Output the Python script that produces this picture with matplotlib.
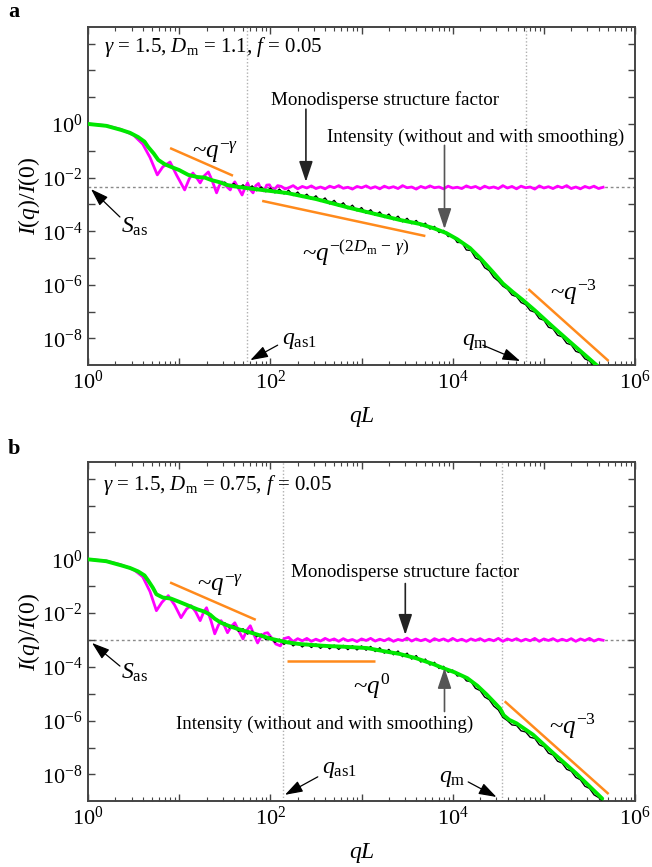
import numpy as np
import matplotlib
matplotlib.use("Agg")
from matplotlib import pyplot as plt
from matplotlib import ticker

plt.rcParams['font.family'] = 'serif'
plt.rcParams['font.serif'] = ['Liberation Serif', 'DejaVu Serif']
plt.rcParams['mathtext.fontset'] = 'custom'
plt.rcParams['mathtext.rm'] = 'Liberation Serif'
plt.rcParams['mathtext.it'] = 'Liberation Serif:italic'
plt.rcParams['mathtext.bf'] = 'Liberation Serif:bold'

#
# Data (log10 values)
#

# common q grid of the noisy parts
lq_noise = [1.50, 1.55, 1.60, 1.65, 1.70, 1.75, 1.80, 1.85, 1.90, 1.95,
            2.00, 2.05, 2.10, 2.15, 2.20, 2.25, 2.30, 2.35, 2.40, 2.45,
            2.50, 2.55, 2.60, 2.65, 2.70, 2.75, 2.80, 2.85, 2.90, 2.95,
            3.00, 3.05, 3.10, 3.15, 3.20, 3.25, 3.30, 3.35, 3.40, 3.45,
            3.50, 3.55, 3.60, 3.65, 3.70, 3.75, 3.80, 3.85, 3.90, 3.95,
            4.00, 4.05, 4.10, 4.15, 4.20, 4.25, 4.30, 4.35, 4.40, 4.45,
            4.50, 4.55, 4.60, 4.65, 4.70, 4.75, 4.80, 4.85, 4.90, 4.95,
            5.00, 5.05, 5.10, 5.15, 5.20, 5.25, 5.30, 5.35, 5.40, 5.45,
            5.50, 5.55, 5.60, 5.65]

# panel a: monodisperse structure factor (magenta)
mono_a_lq = [0, 0.2, 0.36, 0.5, 0.6, 0.68, 0.76, 0.82, 0.9, 0.97,
             1.06, 1.11, 1.15, 1.19, 1.23, 1.27, 1.32, 1.36, 1.41, 1.44,
             1.47, 1.51, 1.56, 1.58, 1.61, 1.65, 1.69, 1.72, 1.75, 1.78,
             1.81, 1.84, 1.87, 1.90, 1.93, 1.96, 1.99, 2.02, 2.05, 2.08,
             2.12, 2.16, 2.20]
mono_a_lI = [0, -0.06, -0.2, -0.42, -0.75, -1.25, -1.9, -1.6, -1.42, -1.9,
             -2.46, -2.05, -1.83, -2.0, -2.2, -1.95, -1.79, -2.1, -2.57, -2.3,
             -2.16, -2.3, -2.46, -2.3, -2.16, -2.4, -2.65, -2.4, -2.2, -2.45,
             -2.57, -2.3, -2.22, -2.45, -2.5, -2.28, -2.27, -2.45, -2.42, -2.3,
             -2.33, -2.42, -2.38]
mono_a_flat = [-2.30, -2.42, -2.33, -2.39, -2.31, -2.41, -2.35, -2.42, -2.32, -2.38,
               -2.30, -2.40, -2.36, -2.43, -2.33, -2.38, -2.31, -2.40, -2.34, -2.42,
               -2.32, -2.39, -2.34, -2.41, -2.30, -2.38, -2.35, -2.43, -2.33, -2.39,
               -2.31, -2.38, -2.35, -2.42, -2.32, -2.39, -2.36, -2.41, -2.31, -2.38,
               -2.33, -2.42, -2.32, -2.39, -2.35, -2.41, -2.30, -2.39, -2.33, -2.42,
               -2.32, -2.38, -2.35, -2.43, -2.31, -2.39, -2.34, -2.41, -2.32, -2.38,
               -2.30, -2.41, -2.35, -2.42, -2.33, -2.39, -2.32, -2.41, -2.36]

# panel a: intensity, raw (black) and smoothed (green)
raw_a_lI = [-2.17, -2.33, -2.22, -2.40, -2.27, -2.45, -2.31, -2.49, -2.35, -2.53,
            -2.39, -2.57, -2.43, -2.61, -2.47, -2.67, -2.54, -2.74, -2.62, -2.81,
            -2.68, -2.89, -2.76, -2.98, -2.85, -3.07, -2.94, -3.16, -3.03, -3.24,
            -3.12, -3.33, -3.20, -3.41, -3.28, -3.49, -3.36, -3.57, -3.44, -3.65,
            -3.52, -3.72, -3.60, -3.80, -3.70, -3.92, -3.82, -4.05, -3.97, -4.20,
            -4.17, -4.42, -4.42, -4.70, -4.72, -5.00, -5.08, -5.36, -5.47, -5.72,
            -5.86, -6.05, -6.16, -6.38, -6.44, -6.66, -6.74, -6.96, -7.02, -7.26,
            -7.32, -7.58, -7.64, -7.88, -7.94, -8.18, -8.24, -8.48, -8.54, -8.76,
            -8.84, -9.06, -9.14, -9.30]
smooth_a_lq = [0, 0.2, 0.36, 0.46, 0.55, 0.62, 0.66, 0.72, 0.77, 0.84,
               0.91, 1.0, 1.1, 1.2, 1.28, 1.35, 1.44, 1.53, 1.65, 1.83,
               2.0, 2.19, 2.5, 2.87, 3.2, 3.42, 3.64, 3.8, 3.93, 4.05,
               4.19, 4.3, 4.44, 4.55, 4.66, 4.77, 4.9, 5.1, 5.3, 5.59]
smooth_a_lI = [0, -0.07, -0.22, -0.33, -0.49, -0.66, -0.86, -1.1, -1.34, -1.5,
               -1.6, -1.72, -1.9, -1.98, -2.0, -2.09, -2.17, -2.28, -2.35, -2.43,
               -2.5, -2.58, -2.8, -3.13, -3.4, -3.58, -3.73, -3.9, -4.07, -4.3,
               -4.63, -5.0, -5.52, -5.95, -6.27, -6.57, -6.95, -7.57, -8.17, -9.03]

# panel b
mono_b_lq = [0, 0.2, 0.36, 0.5, 0.6, 0.68, 0.75, 0.81, 0.88, 0.95,
             1.02, 1.08, 1.13, 1.18, 1.23, 1.27, 1.30, 1.35, 1.39, 1.43,
             1.46, 1.50, 1.53, 1.57, 1.61, 1.66, 1.70, 1.74, 1.78, 1.82,
             1.86, 1.90, 1.94, 1.97, 2.02, 2.06, 2.11, 2.15, 2.20]
mono_b_lI = [0, -0.06, -0.2, -0.38, -0.65, -1.2, -1.91, -1.6, -1.35, -1.7,
             -2.17, -1.85, -1.72, -1.95, -2.28, -1.95, -1.8, -2.3, -2.77, -2.45,
             -2.28, -2.5, -2.73, -2.5, -2.36, -2.7, -2.96, -2.65, -2.47, -2.8,
             -3.11, -2.85, -2.75, -2.73, -2.95, -3.15, -3.22, -2.95, -2.9]
mono_b_flat = [-3.06, -2.95, -3.03, -2.94, -3.05, -2.97, -3.04, -2.94, -3.02, -2.96,
               -3.05, -2.95, -3.03, -2.98, -3.06, -2.96, -3.02, -2.94, -3.04, -2.97,
               -3.03, -2.95, -3.05, -2.98, -3.02, -2.93, -3.04, -2.96, -3.03, -2.97,
               -3.06, -2.95, -3.02, -2.96, -3.04, -2.94, -3.03, -2.97, -3.05, -2.96,
               -3.02, -2.95, -3.04, -2.97, -3.03, -2.94, -3.05, -2.96, -3.02, -2.95,
               -3.04, -2.97, -3.03, -2.94, -3.05, -2.96, -3.02, -2.95, -3.04, -2.97,
               -3.03, -2.95, -3.05, -2.96, -3.02, -2.94, -3.04, -2.97, -3.01]
raw_b_lI = [-2.36, -2.55, -2.47, -2.68, -2.58, -2.78, -2.67, -2.88, -2.78, -2.99,
            -2.88, -3.09, -2.97, -3.16, -3.05, -3.22, -3.10, -3.26, -3.13, -3.28,
            -3.15, -3.31, -3.17, -3.33, -3.19, -3.35, -3.20, -3.36, -3.21, -3.37,
            -3.22, -3.38, -3.24, -3.43, -3.29, -3.49, -3.35, -3.55, -3.41, -3.62,
            -3.49, -3.71, -3.58, -3.82, -3.71, -3.93, -3.83, -4.06, -3.98, -4.20,
            -4.12, -4.34, -4.30, -4.52, -4.55, -4.80, -4.88, -5.12, -5.22, -5.46,
            -5.60, -5.88, -6.00, -6.16, -6.18, -6.38, -6.42, -6.62, -6.66, -6.90,
            -6.97, -7.21, -7.28, -7.51, -7.58, -7.81, -7.88, -8.11, -8.20, -8.44,
            -8.52, -8.76, -8.86, -9.02]
smooth_b_lq = [0, 0.2, 0.36, 0.46, 0.55, 0.62, 0.66, 0.71, 0.75, 0.82,
               0.91, 1.0, 1.1, 1.2, 1.28, 1.34, 1.39, 1.46, 1.54, 1.65,
               1.83, 2.0, 2.19, 2.32, 2.6, 2.8, 3.06, 3.25, 3.42, 3.6,
               3.79, 3.89, 4.02, 4.16, 4.27, 4.37, 4.45, 4.52, 4.56, 4.62,
               4.7, 4.88, 5.1, 5.35, 5.64]
smooth_b_lI = [0, -0.07, -0.22, -0.32, -0.45, -0.6, -0.79, -1.05, -1.3, -1.42,
               -1.46, -1.58, -1.72, -1.86, -1.95, -2.06, -2.21, -2.36, -2.47, -2.6,
               -2.77, -2.95, -3.09, -3.15, -3.22, -3.25, -3.3, -3.42, -3.52, -3.68,
               -3.9, -4.04, -4.2, -4.42, -4.7, -5.02, -5.3, -5.55, -5.8, -5.97,
               -6.1, -6.52, -7.2, -7.95, -8.9]

# power-law guide lines: (lq start, lq end), (lI start, lI end)
guides_a = [((0.90, 1.59), (-0.90, -1.93)),
            ((1.91, 3.70), (-2.87, -4.18)),
            ((4.83, 5.71), (-6.16, -8.84))]
guides_b = [((0.90, 1.84), (-0.86, -2.25)),
            ((2.18, 3.15), (-3.78, -3.78)),
            ((4.57, 5.71), (-5.28, -8.73))]

# characteristic values: S_as level, q_as1, q_m (log10)
sas_a, qas1_a, qm_a = -2.37, 1.743, 4.80
sas_b, qas1_b, qm_b = -3.0, 2.14, 4.54

# decades that get a tick / a label
y_ticks = [-8, -7, -6, -5, -4, -3, -2, -1, 0, 1, 2, 3]
y_labeled = [-8, -6, -4, -2, 0]
x_ticks = [0, 1, 2, 3, 4, 5, 6]
x_labeled = [0, 2, 4, 6]

params_a = r'$\gamma$ = 1.5, $D_{\rm m}$ = 1.1, $f$ = 0.05'
params_b = r'$\gamma$ = 1.5, $D_{\rm m}$ = 0.75, $f$ = 0.05'

MAGENTA = '#ff00ff'
GREEN = '#00e800'
ORANGE = '#ff8a1c'


def P(v):
    return 10.0 ** np.asarray(v, dtype=float)


def dec_labels(ticks, labeled):
    return [r'$10^{%d}$' % e if e in labeled else '' for e in ticks]


def setup_axes(ax):
    ax.set_xscale('log')
    ax.set_yscale('log')
    ax.set_xlim(1, 1e6)
    ax.set_ylim(10 ** -8.99, 10 ** 3.62)
    ax.set_xticks(P(x_ticks), dec_labels(x_ticks, x_labeled))
    ax.set_yticks(P(y_ticks), dec_labels(y_ticks, y_labeled))
    ax.xaxis.set_minor_locator(ticker.LogLocator(base=10, subs=np.arange(2, 10), numticks=20))
    ax.xaxis.set_minor_formatter(ticker.NullFormatter())
    ax.yaxis.set_minor_locator(ticker.NullLocator())
    ax.tick_params(which='both', direction='in', top=True, right=True, color='#444',
                   labelsize=16, pad=4)
    ax.tick_params(which='major', length=5, width=1)
    ax.tick_params(which='minor', length=3, width=0.8)
    for s in ax.spines.values():
        s.set_color('#444')
        s.set_linewidth(1.4)
    ax.set_xlabel(r'$qL$', fontsize=17, labelpad=8)
    ax.set_ylabel(r'$I(q)/I(0)$', fontsize=17, labelpad=0)


def draw_panel(ax, mono_lq, mono_lI, mono_flat, raw_lI, smooth_lq, smooth_lI,
               guides, sas, qas1, qm):
    ax.axhline(10 ** sas, color='#8a8a8a', ls=(0, (2, 2)), lw=1.0, zorder=1)
    ax.axvline(10 ** qas1, color='#b0b0b0', ls=(0, (1, 1.5)), lw=1.0, zorder=1)
    ax.axvline(10 ** qm, color='#b0b0b0', ls=(0, (1, 1.5)), lw=1.0, zorder=1)
    for (xs, ys) in guides:
        ax.plot(P(xs), P(ys), color=ORANGE, lw=1.8, zorder=2, solid_capstyle='butt')
    ax.plot(P(list(mono_lq) + lq_noise[15:]), P(list(mono_lI) + mono_flat),
            color=MAGENTA, lw=2.0, zorder=3)
    ax.plot(P(lq_noise), P(raw_lI), color='black', lw=1.0, zorder=4)
    ax.plot(P(smooth_lq), P(smooth_lI), color=GREEN, lw=2.8, zorder=5,
            solid_capstyle='round')


def arrow(ax, start, tip, color='black', lw=0.9, scale=12):
    ax.annotate('', xy=P(tip), xytext=P(start),
                arrowprops=dict(arrowstyle='-|>,head_length=0.9,head_width=0.3',
                                color=color, lw=lw, shrinkA=0, shrinkB=0,
                                mutation_scale=scale), zorder=6)


fig = plt.figure(figsize=(6.52, 8.67), dpi=100)
ax_a = fig.add_axes([0.135, 0.579, 0.839, 0.390])
ax_b = fig.add_axes([0.135, 0.0761, 0.839, 0.391])

#
# Panel a
#
setup_axes(ax_a)
draw_panel(ax_a, mono_a_lq, mono_a_lI, mono_a_flat, raw_a_lI, smooth_a_lq, smooth_a_lI,
           guides_a, sas_a, qas1_a, qm_a)
ax_a.text(*P((0.175, 2.87)), params_a, fontsize=15, ha='left', va='center')
ax_a.text(*P((3.26, 0.90)), 'Monodisperse structure factor', fontsize=13.7, ha='center', va='center')
arrow(ax_a, (2.39, 0.55), (2.39, -2.16), color='#222', lw=1.2, scale=14)
ax_a.text(*P((4.25, -0.49)), 'Intensity (without and with smoothing)', fontsize=13.7,
          ha='center', va='center')
arrow(ax_a, (3.91, -0.80), (3.91, -3.92), color='#555', lw=1.2, scale=14)
ax_a.text(*P((0.515, -3.84)), r'$S_{\rm as}$', fontsize=17, ha='center', va='center')
arrow(ax_a, (0.35, -3.47), (0.033, -2.43))
ax_a.text(*P((1.39, -1.04)), r'~$q^{-\gamma}$', fontsize=18, ha='center', va='center')
ax_a.text(*P((2.93, -4.78)), r'~$q^{-(2D_{\rm m}\,-\,\gamma)}$', fontsize=18,
          ha='center', va='center')
ax_a.text(*P((5.32, -6.27)), r'~$q^{-3}$', fontsize=18, ha='center', va='center')
ax_a.text(*P((2.32, -8.06)), r'$q_{\rm as1}$', fontsize=17, ha='center', va='center')
arrow(ax_a, (2.08, -8.25), (1.78, -8.81))
ax_a.text(*P((4.25, -8.13)), r'$q_{\rm m}$', fontsize=17, ha='center', va='center')
arrow(ax_a, (4.33, -8.25), (4.74, -8.84))

#
# Panel b
#
setup_axes(ax_b)
draw_panel(ax_b, mono_b_lq, mono_b_lI, mono_b_flat, raw_b_lI, smooth_b_lq, smooth_b_lI,
           guides_b, sas_b, qas1_b, qm_b)
ax_b.text(*P((0.165, 2.77)), params_b, fontsize=15, ha='left', va='center')
ax_b.text(*P((3.48, -0.49)), 'Monodisperse structure factor', fontsize=13.7, ha='center', va='center')
arrow(ax_b, (3.48, -0.90), (3.48, -2.81), color='#222', lw=1.2, scale=14)
ax_b.text(*P((2.60, -6.14)), 'Intensity (without and with smoothing)', fontsize=13.7,
          ha='center', va='center')
arrow(ax_b, (3.91, -5.66), (3.91, -4.04), color='#555', lw=1.2, scale=14)
ax_b.text(*P((0.515, -4.23)), r'$S_{\rm as}$', fontsize=17, ha='center', va='center')
arrow(ax_b, (0.35, -3.97), (0.044, -3.11))
ax_b.text(*P((1.45, -0.97)), r'~$q^{-\gamma}$', fontsize=18, ha='center', va='center')
ax_b.text(*P((3.11, -4.72)), r'~$q^{0}$', fontsize=18, ha='center', va='center')
ax_b.text(*P((5.31, -6.22)), r'~$q^{-3}$', fontsize=18, ha='center', va='center')
ax_b.text(*P((2.76, -7.83)), r'$q_{\rm as1}$', fontsize=17, ha='center', va='center')
arrow(ax_b, (2.52, -8.09), (2.16, -8.76))
ax_b.text(*P((3.99, -8.16)), r'$q_{\rm m}$', fontsize=17, ha='center', va='center')
arrow(ax_b, (4.17, -8.28), (4.48, -8.84))

fig.text(0.012, 0.986, 'a', fontsize=16, fontweight='bold', ha='left', va='center')
fig.text(0.012, 0.482, 'b', fontsize=16, fontweight='bold', ha='left', va='center')

fig.savefig('out.png', dpi=100)
